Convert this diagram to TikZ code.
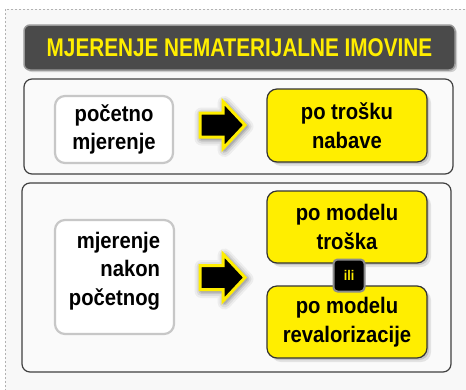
\documentclass[tikz,border=0pt]{standalone}
\usepackage{fontspec}
\setmainfont{Liberation Sans}
\newfontfamily\titlefont[FakeStretch=0.81]{Liberation Sans}
\newfontfamily\boxfont[FakeStretch=0.9]{Liberation Sans}
\usetikzlibrary{shadows}
\definecolor{ybox}{HTML}{FFEE00}
\definecolor{bgray}{HTML}{F8F8F8}
\definecolor{titlebg}{HTML}{4A4A4A}
\tikzset{
  panel/.style={draw=black!75, line width=1.2pt, rounded corners=8pt, fill=black!2},
  initbox/.style={draw=black!22, line width=2.2pt, rounded corners=10pt, fill=white,
    font=\boxfont\bfseries\fontsize{22.5}{28.5}\selectfont, text=black},
  resbox/.style={draw=black!80, line width=1.2pt, rounded corners=10pt, fill=ybox,
    font=\boxfont\bfseries\fontsize{22.5}{28.5}\selectfont, text=black, align=center,
    drop shadow={opacity=0.18, shadow xshift=4pt, shadow yshift=-4pt},
    drop shadow={opacity=0.3, shadow xshift=2pt, shadow yshift=-2pt}},
  blockarrow/.pic={
    \foreach \w/\o in {14/0.05, 10/0.07, 6/0.1, 3/0.12}
      \draw[black, opacity=\o, line width=\w pt, line join=round, shift={(1.5,1.5)}]
        (-23,-12) -- (0,-12) -- (0,-23.5) -- (22,0) -- (0,23.5) -- (0,12) -- (-23,12) -- cycle;
    \draw[fill=black, draw=ybox, line width=3pt, line join=miter]
        (-23,-12) -- (0,-12) -- (0,-23.5) -- (22,0) -- (0,23.5) -- (0,12) -- (-23,12) -- cycle;
  }
}
\begin{document}
\begin{tikzpicture}[x=1pt, y=-1pt]
\useasboundingbox (0,0) rectangle (466,389);
\fill[white] (0,0) rectangle (466,389);
\draw[black!30, dashed, dash pattern=on 2pt off 2pt, fill=bgray] (5,9) rectangle (490,410);

% title bar
\node[draw=black!40, line width=1.5pt, rounded corners=6pt, fill=titlebg,
      minimum width=431, minimum height=45, inner sep=0,
      drop shadow={opacity=0.35, shadow xshift=2pt, shadow yshift=-2pt},
      text=ybox, font=\titlefont\bfseries\fontsize{25.6}{30}\selectfont]
  (title) at (239.5,47.5) {MJERENJE NEMATERIJALNE IMOVINE};

% panels
\node[panel, minimum width=429, minimum height=95] (box1) at (238.5,126.5) {};
\node[panel, minimum width=429, minimum height=189] (box2) at (236.5,277.5) {};

% left boxes
\node[initbox, align=center, minimum width=118, minimum height=67, inner sep=0]
  (init1) at (114,129.5) {početno\\mjerenje};
\node[initbox, align=right, minimum width=119, minimum height=114, inner sep=0,
      text height=61pt]
  (init2) at (114.5,277) {mjerenje\\nakon\\početnog};

% arrows
\coordinate (arr1) at (223,125);
\coordinate (arr2) at (223,277.5);
\pic at (arr1) {blockarrow};
\pic at (arr2) {blockarrow};

% result boxes
\node[resbox, minimum width=160, minimum height=73, inner sep=0] (res1) at (347,125.5) {po trošku\\nabave};
\node[resbox, minimum width=160, minimum height=72, inner sep=0] (res2) at (347,227) {po modelu\\troška};
\node[resbox, minimum width=160, minimum height=72, inner sep=0] (res3) at (347,322) {po modelu\\revalorizacije};

% ili
\node[draw=black!45, line width=2pt, rounded corners=4pt, fill=black,
      minimum width=31, minimum height=32, inner sep=0,
      text=ybox, font=\boxfont\bfseries\fontsize{14}{16}\selectfont]
  (ili) at (349,275.5) {ili};
\end{tikzpicture}
\end{document}
